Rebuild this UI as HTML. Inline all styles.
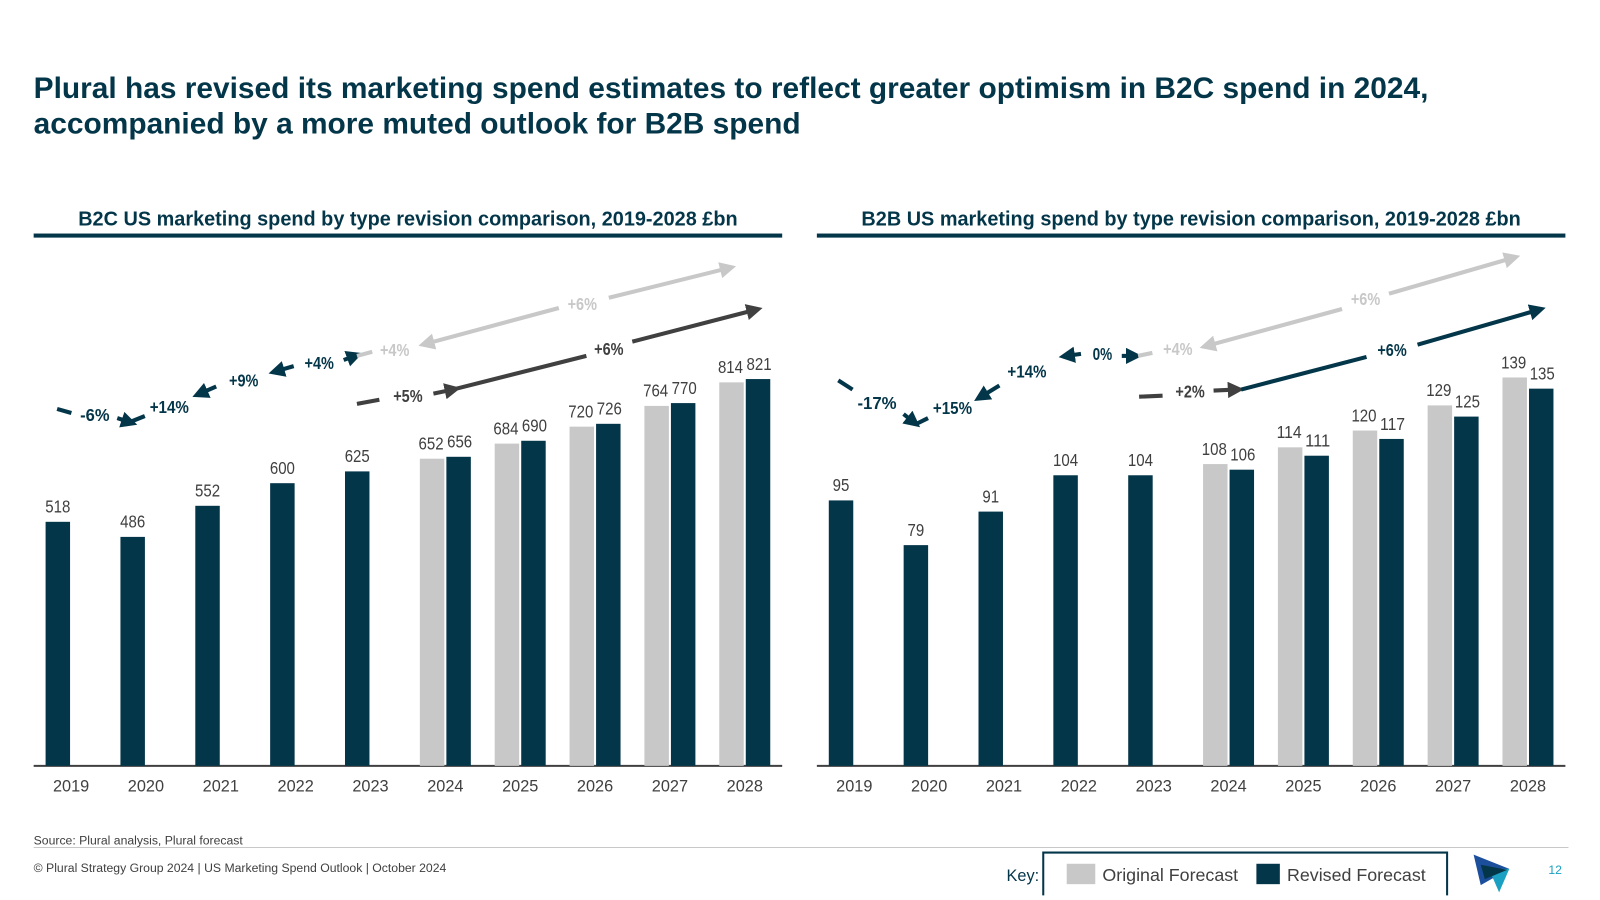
<!DOCTYPE html>
<html><head><meta charset="utf-8">
<style>
body{margin:0;background:#fff;font-family:"Liberation Sans",Arial,sans-serif;}
#outer{position:relative;width:1600px;height:900px;overflow:hidden;background:#fff;}
#wrap{position:absolute;left:0;top:0;width:1569px;height:883px;transform:scale(1.0198);transform-origin:0 0;}
.title{position:absolute;left:33px;top:69px;font-size:29.3px;font-weight:bold;color:#04364a;line-height:35px;white-space:nowrap;}
</style></head><body>
<div id="outer">
<div id="wrap">
<div class="title">Plural has revised its marketing spend estimates to reflect greater optimism in B2C spend in 2024,<br>accompanied by a more muted outlook for B2B spend</div>
<svg id="chart" width="1569" height="883" style="position:absolute;left:0;top:0">
<defs>
<marker id="hT" markerWidth="4" markerHeight="4" refX="2" refY="2" orient="auto"><path d="M0,0L4,2L0,4Z" fill="#04364a"/></marker>
<marker id="hG" markerWidth="4" markerHeight="4" refX="2" refY="2" orient="auto"><path d="M0,0L4,2L0,4Z" fill="#c8c8c8"/></marker>
<marker id="hD" markerWidth="4" markerHeight="4" refX="2" refY="2" orient="auto"><path d="M0,0L4,2L0,4Z" fill="#404040"/></marker>
</defs>
<g id="annot"></g>
<text x="400" y="221" text-anchor="middle" font-size="19.5" font-weight="bold" fill="#04364a">B2C US marketing spend by type revision comparison, 2019-2028 £bn</text>
<rect x="33" y="229" width="734" height="4" fill="#04364a"/>
<text x="1168" y="221" text-anchor="middle" font-size="19.5" font-weight="bold" fill="#04364a">B2B US marketing spend by type revision comparison, 2019-2028 £bn</text>
<rect x="801" y="229" width="734" height="4" fill="#04364a"/>
<g id="bars"></g>
<line x1="33" y1="831" x2="1538" y2="831" stroke="#c8c8c8" stroke-width="1"/>
<text x="33" y="828" font-size="12" fill="#404040">Source: Plural analysis, Plural forecast</text>
<text x="33" y="855" font-size="12" fill="#404040">© Plural Strategy Group 2024 | US Marketing Spend Outlook | October 2024</text>
<g>
<path d="M1023,878 L1023,836 L1419,836 L1419,878" fill="none" stroke="#04364a" stroke-width="2"/>
<text x="987" y="864" font-size="16" fill="#04364a">Key:</text>
<rect x="1046" y="847" width="28" height="20" fill="#c8c8c8"/>
<text x="1081" y="864" font-size="17.5" fill="#404040">Original Forecast</text>
<rect x="1232" y="847" width="23" height="20" fill="#04364a"/>
<text x="1262" y="864" font-size="17.5" fill="#404040">Revised Forecast</text>
</g>
<g>
<path d="M1445,838 L1480,852 L1452,868Z" fill="#1b4f9c"/>
<path d="M1460,852 L1480,852 L1470,875Z" fill="#19a0c2"/>
<path d="M1452,848 L1478,853 L1456,862Z" fill="#04364a"/>
</g>
<text x="1525" y="857" text-anchor="middle" font-size="12" fill="#19a0c2">12</text>
</svg>
</div>
</div>
<script>
const years=["2019","2020","2021","2022","2023","2024","2025","2026","2027","2028"];
const b2cRevised=[518,486,552,600,625,656,690,726,770,821];
const b2cOriginal=[null,null,null,null,null,652,684,720,764,814];
const b2bRevised=[95,79,91,104,104,106,111,117,125,135];
const b2bOriginal=[null,null,null,null,null,108,114,120,129,139];

const NS="http://www.w3.org/2000/svg";
const bars=document.getElementById('bars');
function mk(t,a,p){const e=document.createElementNS(NS,t);for(const k in a)e.setAttribute(k,a[k]);(p||bars).appendChild(e);return e;}
function valText(x,y,v){const s=String(v);const e=mk('text',{x,y,'text-anchor':'middle','font-size':17,fill:'#404040',textLength:s.length*8.2,lengthAdjust:'spacingAndGlyphs'});e.textContent=s;return e;}
function drawChart(x0,x1,scale,orig,rev,prefix){
  const base=751,n=years.length,cw=(x1-x0)/n;
  const xC=i=>x0+cw*(i+0.5);
  const yV=v=>base-v*scale;
  const ax=mk('line',{x1:x0,y1:base,x2:x1,y2:base,stroke:'#404040','stroke-width':2});
  
  
  years.forEach((y,i)=>{
    const c=xC(i);
    const t=mk('text',{x:c,y:776,'text-anchor':'middle','font-size':16,fill:'#404040'});t.textContent=y;
    
    
    if(orig[i]==null){
      const r=mk('rect',{x:c-25,y:yV(rev[i]),width:24,height:rev[i]*scale,fill:'#04364a'});
      
      
      const l=valText(c-13,yV(rev[i])-9,rev[i]);
      
      
    }else{
      const g=mk('rect',{x:c-25,y:yV(orig[i]),width:24,height:orig[i]*scale,fill:'#c8c8c8'});
      
      
      const r=mk('rect',{x:c+1,y:yV(rev[i]),width:24,height:rev[i]*scale,fill:'#04364a'});
      
      
      const lg=valText(c-14,yV(orig[i])-9,orig[i]);
      
      
      const lr=valText(c+14,yV(rev[i])-9,rev[i]);
      
      
    }
  });
}
drawChart(33,767,0.462,b2cOriginal,b2cRevised,'b2c');
drawChart(801,1535,2.74,b2bOriginal,b2bRevised,'b2b');

const an=document.getElementById('annot');
const C={T:'#04364a',G:'#c8c8c8',D:'#404040'};
function seg(x1,y1,x2,y2,c,head){const a={x1,y1,x2,y2,stroke:C[c],'stroke-width':4};if(head)a['marker-end']='url(#h'+c+')';const e=mk('line',a,an);

}
function lab(x,y,t,c){const e=mk('text',{x,y:y+6,'text-anchor':'middle','font-size':17,'font-weight':'bold',fill:C[c],textLength:t.length*9.6,lengthAdjust:'spacingAndGlyphs'},an);e.textContent=t;

}
// B2C
seg(56,401,70,405,'T');lab(93,407,'-6%','T');seg(115,410,127,414,'T',1);seg(127,414,142,408,'T');
lab(166,399,'+14%','T');seg(212,379,196,386,'T',1);lab(239,373,'+9%','T');seg(288,359,271,364,'T',1);
lab(313,356,'+4%','T');seg(337,353,348,349,'T',1);seg(350,349,365,345,'G');lab(387,343,'+4%','G');
seg(548,302,418,337,'G',1);lab(571,298,'+6%','G');seg(597,292,714,263,'G',1);
seg(350,396,372,392,'D');lab(400,388,'+5%','D');seg(425,386,444,382,'D',1);seg(444,382,575,349,'D');lab(597,342,'+6%','D');seg(620,335,740,304,'D',1);
// B2B
seg(822,373,836,382,'T');lab(860,395,'-17%','T');seg(886,406,896,414,'T',1);seg(898,416,910,410,'T');
lab(934,400,'+15%','T');seg(980,378,962,389,'T',1);lab(1007,364,'+14%','T');seg(1060,347,1046,349,'T',1);
lab(1081,347,'0%','T');seg(1100,349,1112,349,'T',1);seg(1116,349,1130,346,'G');lab(1155,342,'+4%','G');
seg(1316,303,1184,339,'G',1);lab(1339,293,'+6%','G');seg(1362,288,1483,253,'G',1);
seg(1117,389,1140,388,'D');lab(1167,384,'+2%','D');seg(1190,383,1212,382,'D',1);seg(1217,382,1340,350,'T');lab(1365,343,'+6%','T');seg(1390,338,1508,304,'T',1);
</script>
</body></html>
